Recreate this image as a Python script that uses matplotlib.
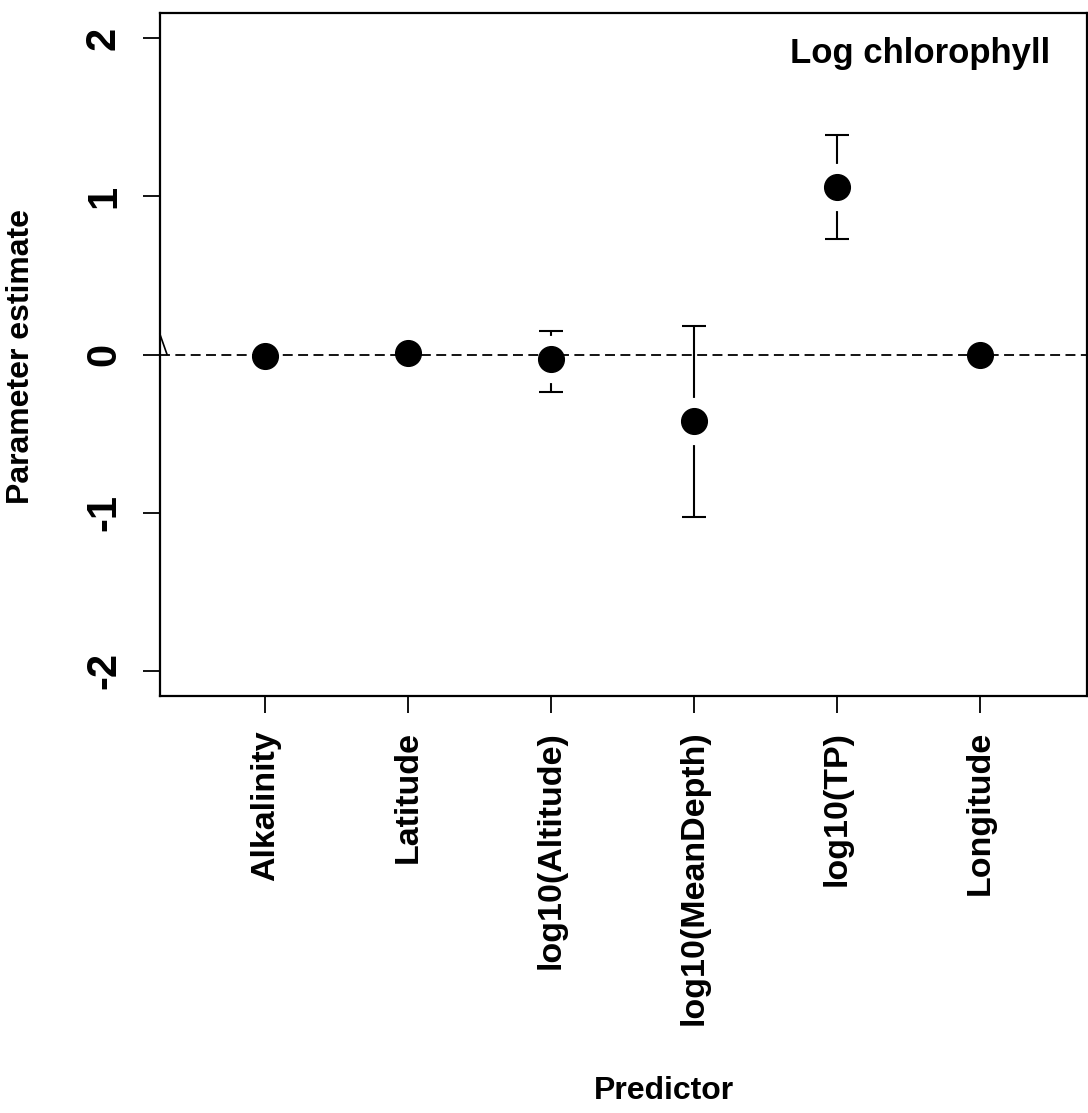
import matplotlib
matplotlib.use("Agg")
import numpy as np
import matplotlib.pyplot as plt
import matplotlib.transforms as mtransforms

# ------------------------------------------------------------
# DATA
# ------------------------------------------------------------
predictors = ["Alkalinity", "Latitude", "log10(Altitude)",
              "log10(MeanDepth)", "log10(TP)", "Longitude"]
estimate = [-0.01, 0.01, -0.03, -0.42, 1.06, 0.00]
lower = [np.nan, np.nan, -0.24, -1.03, 0.73, np.nan]
upper = [np.nan, np.nan, 0.15, 0.18, 1.39, np.nan]
y_ticks = [-2, -1, 0, 1, 2]
panel_title = "Log chlorophyll"

plt.rcParams["font.family"] = ["Liberation Sans", "DejaVu Sans"]
plt.rcParams["font.weight"] = "bold"

W, H = 1088, 1113
fig = plt.figure(figsize=(W / 100, H / 100), dpi=100)
# axes box in pixels: left 160, right 1087, top 13, bottom 696
ax = fig.add_axes([160 / W, 1 - 696 / H, 927 / W, 683 / H])

x = np.arange(1, len(predictors) + 1)
est = np.array(estimate)
lo = np.array(lower)
hi = np.array(upper)
has_ci = ~np.isnan(lo)

# error bars (behind everything)
ax.errorbar(x[has_ci], est[has_ci],
            yerr=[est[has_ci] - lo[has_ci], hi[has_ci] - est[has_ci]],
            fmt="none", ecolor="black", elinewidth=1.5, capsize=8.6,
            capthick=1.5, zorder=1)

# white halo so the bars stop short of the points
ax.plot(x, est, "o", ms=33, color="white", mec="white", zorder=2)

# zero reference line
ax.axhline(0, color="black", lw=1.3, ls=(0, (5.5, 3)), zorder=3)

# points
ax.plot(x, est, "o", ms=18.5, color="black", mec="black", zorder=4)

# small stray stroke at the left edge, ending on the zero line
trans = mtransforms.blended_transform_factory(ax.transAxes, ax.transData)
ax.plot([0.0, 0.0076], [0.127, 0.0], transform=trans,
        color="black", lw=1.2, clip_on=False, zorder=5)

ax.set_xlim(0.263, 6.75)
ax.set_ylim(-2.16, 2.16)

ax.set_xticks(x)
ax.set_xticklabels(predictors, rotation=90, fontsize=24.5, fontweight="bold")
ax.set_yticks(y_ticks)
ax.set_yticklabels([str(t) for t in y_ticks], rotation=90, va="center",
                   fontsize=30, fontweight="bold")
ax.tick_params(axis="both", direction="out", length=12, width=1.3)
ax.tick_params(axis="x", pad=13)
ax.tick_params(axis="y", pad=14)

for s in ax.spines.values():
    s.set_linewidth(1.6)

fig.text(664 / W, 1 - 1099 / H, "Predictor", ha="center", va="baseline",
         fontsize=23, fontweight="bold")
fig.text(21 / W, 1 - 356 / H, "Parameter estimate", ha="center", va="center",
         rotation=90, fontsize=23, fontweight="bold")

ax.text(0.960, 0.94, panel_title, transform=ax.transAxes, ha="right",
        va="center", fontsize=25, fontweight="bold")

fig.savefig("out.png", dpi=100)
